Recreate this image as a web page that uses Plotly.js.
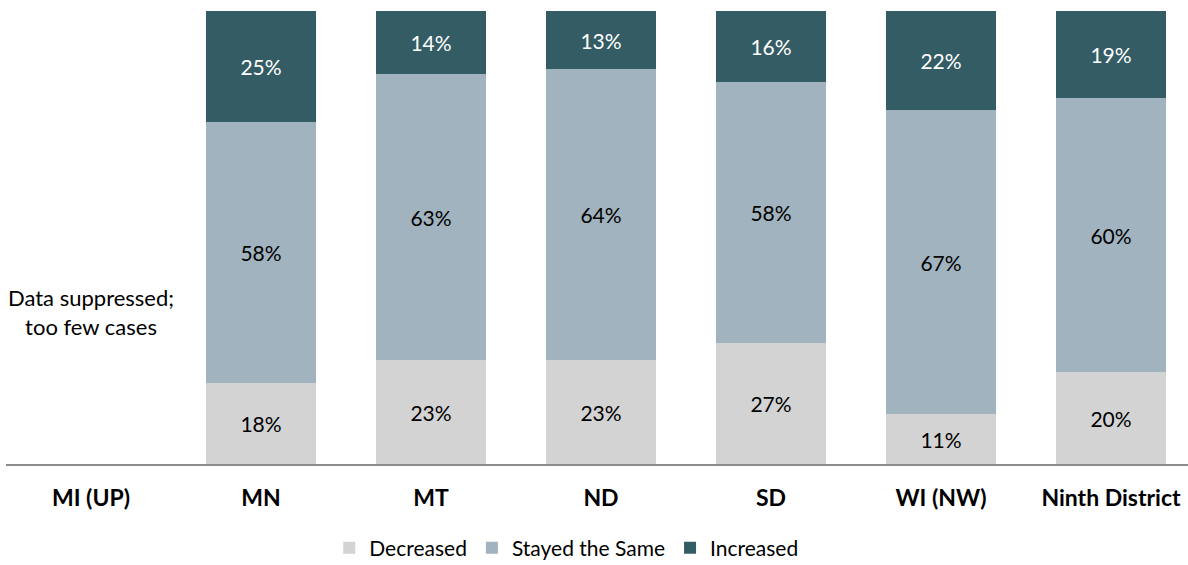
<!DOCTYPE html>
<html>
<head>
<meta charset="utf-8">
<script src="https://cdn.plot.ly/plotly-3.0.1.min.js"></script>
<style>html,body{margin:0;padding:0;background:#fff;}#chart{width:1188px;height:565px;}</style>
</head>
<body>
<div id="chart"></div>
<script>
const categories = ["MI (UP)", "MN", "MT", "ND", "SD", "WI (NW)", "Ninth District"];
const decreased = [null, 17.8, 22.9, 22.9, 26.7, 11.0, 20.3];
const stayedSame = [null, 57.6, 63.1, 64.2, 57.6, 67.1, 60.4];
const increased = [null, 24.6, 14.0, 12.9, 15.7, 21.9, 19.3];
const seriesNames = ["Decreased", "Stayed the Same", "Increased"];
const suppressedNote = "Data suppressed;<br>too few cases";

const FONT = "Lato, 'Open Sans', sans-serif";
function mk(name, vals, color, txtColor) {
  return {
    type: "bar", name: name, x: categories, y: vals,
    marker: {color: color, line: {width: 0}},
    texttemplate: "%{y:.0f}%", textposition: "inside", insidetextanchor: "middle",
    textangle: 0, constraintext: "none",
    textfont: {family: FONT, size: 21, color: txtColor},
    hoverinfo: "skip"
  };
}
const data = [
  mk(seriesNames[0], decreased, "#d3d3d3", "#000000"),
  mk(seriesNames[1], stayedSame, "#a1b3be", "#000000"),
  mk(seriesNames[2], increased, "#345c64", "#ffffff")
];
const layout = {
  width: 1188, height: 565,
  margin: {l: 6, r: 0, t: 11, b: 101},
  barmode: "stack", bargap: 0.356,
  paper_bgcolor: "#fff", plot_bgcolor: "#fff",
  font: {family: FONT, size: 20, color: "#000"},
  xaxis: {
    type: "category", range: [-0.5, 6.453], showgrid: false, zeroline: false,
    showline: true, linecolor: "#8c8c8c", linewidth: 1.5, automargin: false,
    ticks: "", ticklabelstandoff: 13,
    tickfont: {family: FONT, size: 23, color: "#000", weight: "bold"}
  },
  yaxis: {range: [0, 100], visible: false, fixedrange: true},
  showlegend: true,
  legend: {orientation: "h", x: 0.474, xanchor: "center", yref: "container", y: 0.03, yanchor: "middle",
           font: {family: FONT, size: 21, color: "#000"}, traceorder: "normal"},
  annotations: [{x: "MI (UP)", y: 33.5, xref: "x", yref: "y", text: suppressedNote,
                 showarrow: false, align: "center", font: {family: FONT, size: 22, color: "#000"}}]
};
Plotly.newPlot("chart", data, layout, {displayModeBar: false, staticPlot: true});
</script>
</body>
</html>
